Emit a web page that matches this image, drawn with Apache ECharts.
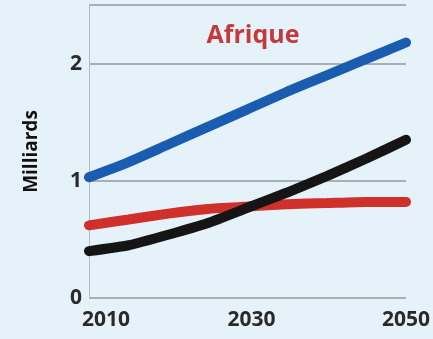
<!DOCTYPE html>
<html>
<head>
<meta charset="utf-8">
<script src="https://cdn.jsdelivr.net/npm/echarts@6/dist/echarts.min.js"></script>
<style>
  html, body { margin: 0; padding: 0; background: #e6f2fa; }
  #chart { width: 433px; height: 339px; }
</style>
</head>
<body>
<div id="chart"></div>
<script>
// years every 5 yrs, values in billions (milliards)
const years = [2010, 2015, 2020, 2025, 2030, 2035, 2040, 2045, 2050];
const blueVals = [1.03, 1.16, 1.31, 1.46, 1.61, 1.76, 1.90, 2.04, 2.18];
const redVals = [0.62, 0.67, 0.72, 0.76, 0.78, 0.80, 0.81, 0.82, 0.82];
const blackVals = [0.40, 0.45, 0.54, 0.64, 0.77, 0.90, 1.04, 1.19, 1.35];
const xTicks = [2010, 2030, 2050];
const yTicks = [0, 1, 2];

const pairs = (vals) => years.map((y, i) => [y, vals[i]]);

const lineSeries = (name, vals, color) => ({
  name: name,
  type: "line",
  data: pairs(vals),
  smooth: 0.2,
  showSymbol: false,
  lineStyle: { color: color, width: 10, cap: "round" },
});

const labelFont = { fontSize: 21, fontWeight: "bold", color: "#2a2a2a", fontFamily: "Open Sans" };

const chart = echarts.init(document.getElementById("chart"));
chart.setOption({
  backgroundColor: "#e6f2fa",
  animation: false,
  title: {
    text: "Afrique",
    left: 248,
    top: 18,
    textAlign: "center",
    textStyle: { color: "#c43a3c", fontSize: 25, fontWeight: "bold", fontFamily: "Open Sans" },
  },
  grid: { left: 89, right: 17, top: 5, bottom: 41 },
  xAxis: {
    type: "value",
    min: 2010,
    max: 2050,
    interval: 20,
    axisLine: { show: false },
    axisTick: { show: false },
    splitLine: { show: false },
    axisLabel: Object.assign({}, labelFont, {
      margin: 12,
      showMinLabel: true,
      showMaxLabel: true,
      formatter: (v) => {
        if (!xTicks.includes(v)) return "";
        if (v === 2010) return "{l|" + v + "}";
        if (v === 2050) return "{r|" + v + "}";
        return "{m|" + v + "}";
      },
      rich: {
        l: Object.assign({ padding: [0, 0, 0, 34] }, labelFont),
        m: Object.assign({ padding: [0, 0, 0, 8] }, labelFont),
        r: Object.assign({ padding: [0, 0, 0, 0] }, labelFont),
      },
    }),
  },
  yAxis: {
    type: "value",
    min: 0,
    max: 2.5,
    interval: 1,
    name: "Milliards",
    nameLocation: "middle",
    nameGap: 48,
    nameTextStyle: { color: "#111", fontSize: 19, fontWeight: "bold", fontFamily: "Open Sans" },
    axisLine: { show: true, lineStyle: { color: "#b4bcc2", width: 1 } },
    axisTick: { show: false },
    splitLine: { show: true, lineStyle: { color: "#a9b0b4", width: 2 } },
    axisLabel: Object.assign({}, labelFont, {
      margin: 7,
      formatter: (v) => (yTicks.includes(v) ? String(v) : ""),
    }),
  },
  series: [
    lineSeries("rouge", redVals, "#d0302a"),
    lineSeries("bleu", blueVals, "#1a5cb0"),
    lineSeries("noir", blackVals, "#151515"),
  ],
});
</script>
</body>
</html>
